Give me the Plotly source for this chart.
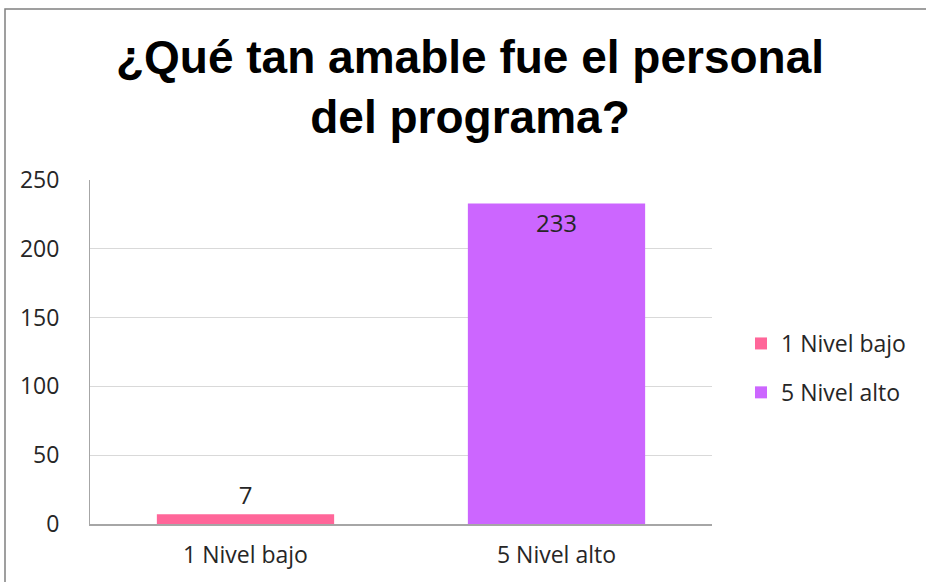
import plotly.graph_objects as go

categories = ["1 Nivel bajo", "5 Nivel alto"]
values = [7, 233]
colors = ["#FF6699", "#CC66FF"]
text_positions = ["outside", "inside"]
title_text = "¿Qué tan amable fue el personal<br>del programa?"
y_ticks = [0, 50, 100, 150, 200, 250]

W, H = 926, 582
L, R, T, B = 90, 712, 180, 524

fig = go.Figure()
for cat, val, col, tp in zip(categories, values, colors, text_positions):
    fig.add_trace(go.Bar(
        x=[cat], y=[val], name=cat, legendgroup=cat,
        marker=dict(color=col, line=dict(width=0)),
        text=[str(val)], textposition=tp,
        insidetextanchor="end",
        textfont=dict(size=24, color="#262626", family="Open Sans"),
        cliponaxis=False,
    ))

fig.update_layout(
    width=W, height=H,
    margin=dict(l=L, r=W - R, t=T, b=H - B, pad=0, autoexpand=False),
    paper_bgcolor="white", plot_bgcolor="white",
    barmode="relative", bargap=0.43,
    title=dict(text=title_text, x=470 / W, xanchor="center",
               y=1 - 73 / H, yanchor="middle",
               font=dict(family="Liberation Sans", size=46, color="#000000", weight="bold")),
    font=dict(family="Open Sans", size=24, color="#262626"),
    legend=dict(x=(741 - L) / (R - L), xanchor="left",
                y=(B - 368) / (B - T), yanchor="middle",
                font=dict(size=23, color="#262626"),
                itemwidth=30, tracegroupgap=16),
    showlegend=True,
    xaxis=dict(showline=True, linecolor="#a6a6a6", linewidth=1.5,
               ticks="", ticklabelstandoff=10,
               tickfont=dict(size=23, color="#262626")),
    yaxis=dict(range=[0, 250], tickvals=y_ticks, showgrid=True,
               gridcolor="#d9d9d9", gridwidth=1, showline=True,
               linecolor="#a6a6a6", linewidth=1, zeroline=False,
               ticks="", ticklabelstandoff=25,
               tickfont=dict(size=23, color="#262626")),
    shapes=[dict(type="rect", xref="paper", yref="paper",
                 x0=(5 - L) / (R - L), x1=(940 - L) / (R - L),
                 y0=(B - 600) / (B - T), y1=(B - 9) / (B - T),
                 line=dict(color="#808080", width=1.5), fillcolor="rgba(0,0,0,0)",
                 layer="below")],
)
fig.write_html("out.html", config={"displayModeBar": False},
               post_script="document.body.style.margin='0';")
